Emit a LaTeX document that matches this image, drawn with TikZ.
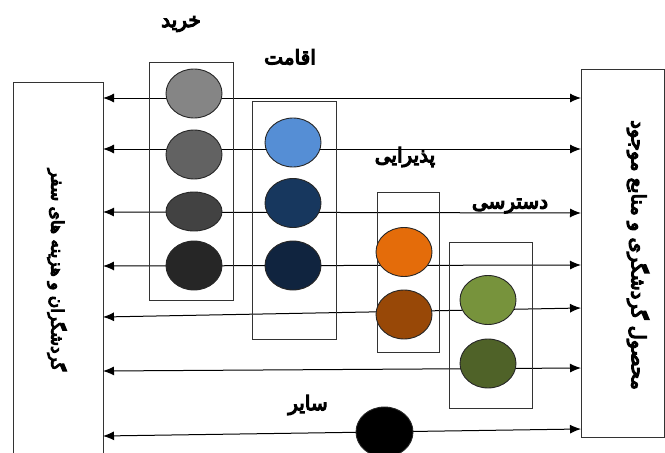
\documentclass[tikz,border=0pt]{standalone}
\usepackage{fontspec}
\usetikzlibrary{arrows.meta,shapes.geometric}
\TeXXeTstate=1
\newfontfamily\fafont[Script=Arabic,FakeBold=6]{DejaVu Sans}
\definecolor{ga}{HTML}{858585}
\definecolor{gb}{HTML}{626262}
\definecolor{gc}{HTML}{424242}
\definecolor{gd}{HTML}{262626}
\definecolor{ba}{HTML}{558ED5}
\definecolor{bb}{HTML}{17375E}
\definecolor{bc}{HTML}{10243F}
\definecolor{oa}{HTML}{E46C0A}
\definecolor{ob}{HTML}{984807}
\definecolor{va}{HTML}{77933C}
\definecolor{vb}{HTML}{4F6228}
\definecolor{edge}{HTML}{333333}
\begin{document}
\begin{tikzpicture}[x=1pt,y=-1pt,
  dot/.style={ellipse,draw=black!85,line width=0.9pt,minimum width=56pt,minimum height=49pt,inner sep=0pt},
  grp/.style={draw=edge,line width=0.8pt},
  bigbox/.style={draw=edge,line width=0.9pt},
  conn/.style={line width=1pt,{Latex[length=11pt,width=9pt]}-{Latex[length=11pt,width=9pt]}},
  lab/.style={font=\fafont\fontsize{20}{22}\selectfont,inner sep=0pt},
  side/.style={font=\fafont\fontsize{17}{19}\selectfont,inner sep=0pt,rotate=-90}]
\useasboundingbox (0,0) rectangle (665,453);
\clip (0,0) rectangle (665,453);
% side boxes
\draw[bigbox] (13,460) -- (13,82) -- (103,82) -- (103,460);
\draw[bigbox] (581,69) rectangle (664,437);
\node[side] (lt) at (57,270) {\beginR گردشگران و هزینه های سفر\endR};
\node[side,font=\fafont\fontsize{19.5}{21}\selectfont] (rt) at (638,255) {\beginR محصول گردشگری و منابع موجود\endR};
% connector ends
\coordinate (L1) at (103,98);  \coordinate (R1) at (581,98);
\coordinate (L2) at (103,149); \coordinate (R2) at (581,149);
\coordinate (L3) at (103,212); \coordinate (R3) at (581,213);
\coordinate (L4) at (103,266); \coordinate (R4) at (581,265);
\coordinate (L5) at (103,317); \coordinate (R5) at (581,308);
\coordinate (L6) at (103,371); \coordinate (R6) at (581,368);
\coordinate (L7) at (103,436); \coordinate (R7) at (581,429);
\foreach \i in {1,...,7}{\draw[conn] (L\i) -- (R\i);}
% group boxes
\draw[grp] (149,62) rectangle (233,300);
\draw[grp] (252,101) rectangle (336,339);
\draw[grp] (377,192) rectangle (439,352);
\draw[grp] (449,242) rectangle (532,408);
% circles
\node[dot,fill=ga] (k1) at (194,93.5) {};
\node[dot,fill=gb] (k2) at (194,154.5) {};
\node[dot,fill=gc,minimum height=39pt] (k3) at (194,211.5) {};
\node[dot,fill=gd] (k4) at (194,265.5) {};
\node[dot,fill=ba] (q1) at (293,142.5) {};
\node[dot,fill=bb] (q2) at (293,203) {};
\node[dot,fill=bc] (q3) at (293,265.5) {};
\node[dot,fill=oa] (p1) at (404,252) {};
\node[dot,fill=ob] (p2) at (404,314.5) {};
\node[dot,fill=va] (d1) at (488,300) {};
\node[dot,fill=vb] (d2) at (488,363.5) {};
\node[dot,fill=black,minimum width=57pt,minimum height=50pt] (s1) at (384.5,432) {};
% labels
\node[lab] (t1) at (181,24) {\beginR خرید\endR};
\node[lab] (t2) at (290,57) {\beginR اقامت\endR};
\node[lab] (t3) at (405,157) {\beginR پذیرایی\endR};
\node[lab] (t4) at (510,206) {\beginR دسترسی\endR};
\node[lab] (t5) at (308,405) {\beginR سایر\endR};
\end{tikzpicture}
\end{document}
